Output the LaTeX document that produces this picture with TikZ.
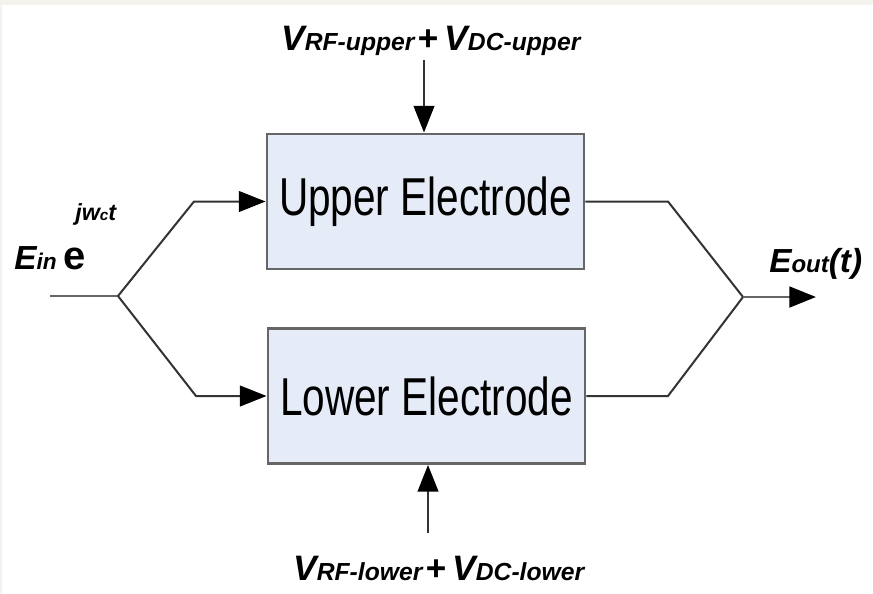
\documentclass[tikz,border=0pt]{standalone}
\usepackage{fontspec}
\usepackage{graphicx}
\setmainfont{Liberation Sans}
\usetikzlibrary{arrows.meta}
\definecolor{bandcol}{HTML}{F3F2EC}
\definecolor{boxfill}{HTML}{E6ECF7}
\definecolor{boxline}{HTML}{666666}
\definecolor{wirecol}{HTML}{333333}
\tikzset{
  electrode/.style={draw=boxline, line width=2.2pt, fill=boxfill,
    minimum width=237.75pt, minimum height=101.25pt, inner sep=0pt,
    font=\fontsize{40}{40}\selectfont},
  wire/.style={draw=wirecol, line width=1.5pt},
  stub/.style={draw=boxline, line width=2.2pt},
  sig/.style={-{Triangle[length=20pt,width=15.5pt,color=black]}},
  lbl/.style={anchor=base west, inner sep=0pt}
}
\newcommand{\bigfs}{\fontsize{26.5}{27}\selectfont\bfseries\itshape}
\newcommand{\subfs}{\fontsize{18.5}{19}\selectfont\bfseries\itshape}
\begin{document}
\begin{tikzpicture}[x=0.75pt,y=-0.75pt]
  % background and frame bands
  \fill[bandcol] (0,0) rectangle (873,593);
  \fill[white] (2,5) rectangle (873,593);
  \useasboundingbox (0,0) rectangle (873,593);

  % electrodes
  \node[electrode] (upper) at (425.5,201.5) {\scalebox{0.76}[1]{Upper Electrode}};
  \node[electrode] (lower) at (426.5,396) {\scalebox{0.76}[1]{Lower Electrode}};

  % junction coordinates
  \coordinate (in) at (50,296);
  \coordinate (split) at (118,296);
  \coordinate (ub) at (194,201.5);
  \coordinate (lb) at (196,396);
  \coordinate (ua) at (668,201.5);
  \coordinate (la) at (668,396);
  \coordinate (join) at (743,297);
  \coordinate (outend) at (816,297);
  \coordinate (topsrc) at (424,60);
  \coordinate (botsrc) at (428,533);

  % input splitting
  \draw[stub] (in) -- (split);
  \draw[wire,sig] (split) -- (ub) -- (upper.west);
  \draw[wire,sig] (split) -- (lb) -- (lower.west);

  % output combining
  \draw[wire] (upper.east) -- (ua) -- (join);
  \draw[wire] (lower.east) -- (la) -- (join);
  \draw[stub,sig] (join) -- (outend);

  % bias inputs
  \draw[wire,sig] (topsrc) -- (topsrc |- upper.north);
  \draw[wire,sig] (botsrc) -- (botsrc |- lower.south);

  % labels
  \node[lbl] (vup) at (281,50) {{\bigfs V}{\subfs RF-upper}\hspace{2pt}{\bigfs +\hspace{5pt}V}{\subfs DC-upper}};
  \node[lbl] (vlo) at (293,580) {{\bigfs V}{\subfs RF-lower}\hspace{2pt}{\bigfs +\hspace{5pt}V}{\subfs DC-lower}};
  \node[lbl] (ein) at (14,269) {{\fontsize{25}{25}\selectfont\bfseries\itshape E}{\fontsize{17}{17}\selectfont\bfseries\itshape in}\hspace{5pt}{\fontsize{30}{30}\selectfont\bfseries e}};
  \node[lbl] (sup) at (75,220) {{\fontsize{17.5}{18}\selectfont\bfseries\itshape jw}{\fontsize{11.5}{12}\selectfont\bfseries\itshape c}{\fontsize{17.5}{18}\selectfont\bfseries\itshape t}};
  \node[lbl] (eout) at (769,272) {{\fontsize{25}{25}\selectfont\bfseries\itshape E}{\fontsize{18}{18}\selectfont\bfseries\itshape out}{\fontsize{25}{25}\selectfont\bfseries\itshape (t)}};
\end{tikzpicture}
\end{document}
